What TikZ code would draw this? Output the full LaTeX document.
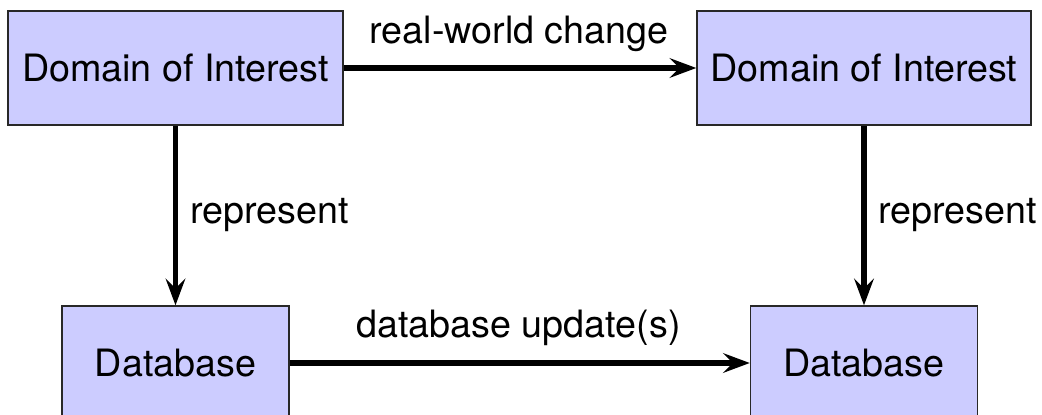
\documentclass[tikz,border=0pt]{standalone}
\usepackage{fontspec}
\setmainfont{TeX Gyre Heros}
\usetikzlibrary{arrows.meta}
\definecolor{boxfill}{RGB}{204,204,255}
\definecolor{boxline}{RGB}{40,40,40}
\begin{document}
\begin{tikzpicture}[x=0.025cm,y=-0.025cm,
  every node/.style={font=\fontsize{26.8}{31}\selectfont},
  box/.style={draw=boxline,line width=1pt,fill=boxfill,minimum height=114*0.025cm,inner sep=0pt},
  conn/.style={line width=4pt,-{Stealth[length=19pt,width=14pt,inset=7pt]}},
  lbl/.style={inner sep=0pt,anchor=base}]
\useasboundingbox (0,0) rectangle (1042,415);
\node[box,minimum width=335*0.025cm] (d1) at (175.5,68) {Domain of Interest};
\node[box,minimum width=334*0.025cm] (d2) at (864,68) {Domain of Interest};
\node[box,minimum width=227*0.025cm] (b1) at (175.5,363) {Database};
\node[box,minimum width=227*0.025cm] (b2) at (864,363) {Database};
\draw[conn] (d1) -- (d2);
\draw[conn] (d1) -- (b1);
\draw[conn] (d2) -- (b2);
\draw[conn] (b1) -- (b2);
\node[lbl] (l1) at (519,43) {real-world change};
\node[lbl] (l2) at (518.5,337) {database update(s)};
\node[lbl,anchor=base west] (l3) at (190,223) {represent};
\node[lbl,anchor=base west] (l4) at (878,223) {represent};
\end{tikzpicture}
\end{document}
